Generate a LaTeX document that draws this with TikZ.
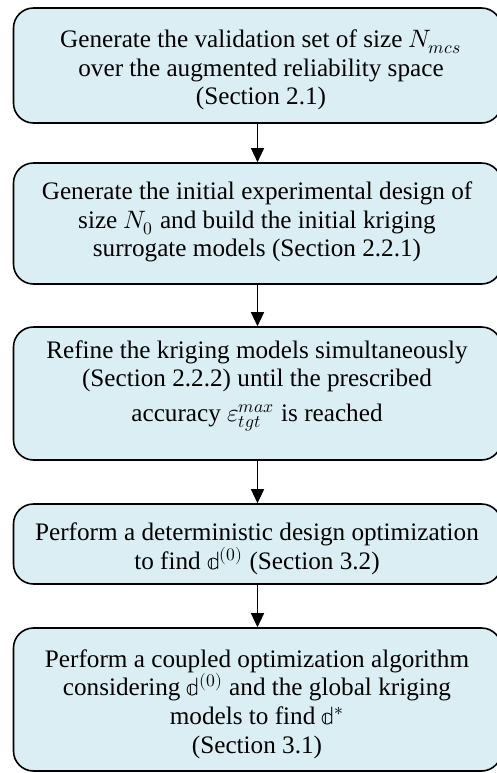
\documentclass[tikz,border=0pt]{standalone}
\usepackage{fontspec}
\usepackage{unicode-math}
\setmainfont{Liberation Serif}
\usetikzlibrary{arrows.meta}
\definecolor{boxfill}{HTML}{DAEEF3}

\begin{document}
\begin{tikzpicture}[x=0.5pt,y=-0.5pt,>={Triangle[width=6.5pt,length=7pt]},
  font=\fontsize{12.6pt}{14.3pt}\selectfont]
\tikzset{stepbox/.style={draw,line width=0.8pt,fill=boxfill,rounded corners=10pt,minimum width=244pt},
  steptext/.style={align=center,inner sep=0pt}}
\useasboundingbox (0,0) rectangle (497,773);
% boxes
\foreach \i/\y/\h in {1/65.5/115,2/223.5/121,3/393.5/133,4/544/80,5/699.5/143}
  \node[stepbox,minimum height=\h*0.5pt] (s\i) at (257.5,\y) {};
% texts
\node[steptext] (t1) at (261,70) {Generate the validation set of size $N_{mcs}$\\over the augmented reliability space\\(Section 2.1)};
\node[steptext] (t2) at (257,222) {Generate the initial experimental design of\\size $N_0$ and build the initial kriging\\surrogate models (Section 2.2.1)};
\node[steptext] (t3) at (257,386) {Refine the kriging models simultaneously\\(Section 2.2.2) until the prescribed\\[3pt]accuracy $\varepsilon_{tgt}^{max}$ is reached};
\node[steptext] (t4) at (257,549) {Perform a deterministic design optimization\\to find $\symbb{d}^{(0)}$ (Section 3.2)};
\node[steptext] (t5) at (257,704) {Perform a coupled optimization algorithm\\considering $\symbb{d}^{(0)}$ and the global kriging\\models to find $\symbb{d}^{*}$\\(Section 3.1)};
% arrows
\foreach \a/\b in {1/2,2/3,3/4,4/5}
  \draw[->,line width=0.6pt] (s\a) -- (s\b);
\end{tikzpicture}
\end{document}
